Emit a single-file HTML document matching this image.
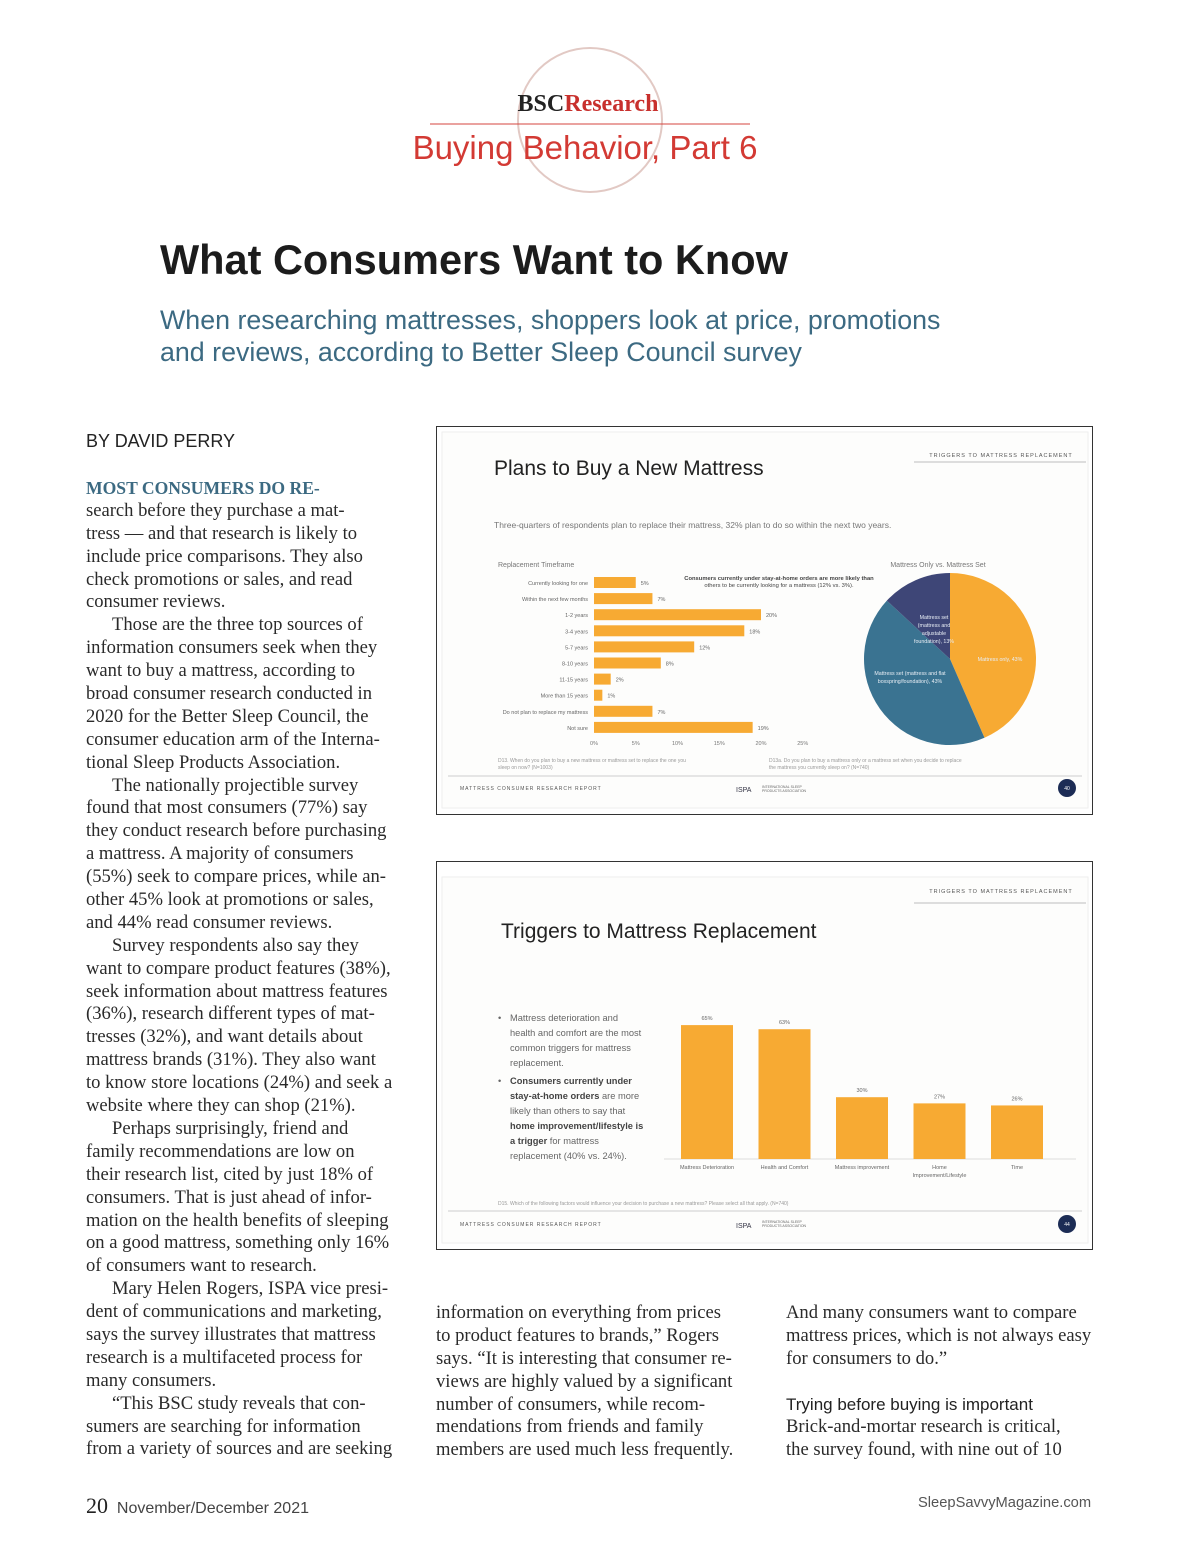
<!DOCTYPE html>
<html><head><meta charset="utf-8">
<style>
body{margin:0;background:#fff;}
#page{position:relative;width:1200px;height:1558px;background:#fff;overflow:hidden;font-family:"Liberation Serif",serif;color:#222;}
.abs{position:absolute;white-space:nowrap;}
.col{position:absolute;font-family:"Liberation Serif",serif;font-size:18.6px;line-height:22.9px;color:#2a2a2a;}
.col div{white-space:nowrap;height:22.9px;}
.ind{padding-left:26px;}
</style></head><body>
<div id="page">

<svg class="abs" style="left:0;top:0" width="1200" height="200">
  <circle cx="590" cy="120" r="72" fill="none" stroke="#e2c9c4" stroke-width="2"/>
  <line x1="430" y1="124" x2="750" y2="124" stroke="#d6453f" stroke-width="1"/>
  <text x="588" y="111" text-anchor="middle" font-family="Liberation Serif" font-weight="bold" font-size="24"><tspan fill="#222">BSC</tspan><tspan fill="#c8302d">Research</tspan></text>
  <text x="585" y="159" text-anchor="middle" font-family="Liberation Sans" font-size="33" fill="#d33a34">Buying Behavior, Part 6</text>
</svg>

<div class="abs" style="left:160px;top:236px;font-family:'Liberation Sans',sans-serif;font-weight:bold;font-size:41.5px;color:#1c1c1c;">What Consumers Want to Know</div>
<div class="abs" style="left:160px;top:304px;font-family:'Liberation Sans',sans-serif;font-size:26.8px;line-height:32px;color:#3c6a82;">When researching mattresses, shoppers look at price, promotions<br>and reviews, according to Better Sleep Council survey</div>

<div class="abs" style="left:86px;top:431px;font-family:'Liberation Sans',sans-serif;font-size:18px;color:#222;">BY DAVID PERRY</div>

<div class="col" style="left:86px;top:477px;">
<div style="color:#3c6a82;font-weight:bold;font-size:17.6px;">MOST CONSUMERS DO RE-</div>
<div>search before they purchase a mat-</div>
<div>tress — and that research is likely to</div>
<div>include price comparisons. They also</div>
<div>check promotions or sales, and read</div>
<div>consumer reviews.</div>
<div class="ind">Those are the three top sources of</div>
<div>information consumers seek when they</div>
<div>want to buy a mattress, according to</div>
<div>broad consumer research conducted in</div>
<div>2020 for the Better Sleep Council, the</div>
<div>consumer education arm of the Interna-</div>
<div>tional Sleep Products Association.</div>
<div class="ind">The nationally projectible survey</div>
<div>found that most consumers (77%) say</div>
<div>they conduct research before purchasing</div>
<div>a mattress. A majority of consumers</div>
<div>(55%) seek to compare prices, while an-</div>
<div>other 45% look at promotions or sales,</div>
<div>and 44% read consumer reviews.</div>
<div class="ind">Survey respondents also say they</div>
<div>want to compare product features (38%),</div>
<div>seek information about mattress features</div>
<div>(36%), research different types of mat-</div>
<div>tresses (32%), and want details about</div>
<div>mattress brands (31%). They also want</div>
<div>to know store locations (24%) and seek a</div>
<div>website where they can shop (21%).</div>
<div class="ind">Perhaps surprisingly, friend and</div>
<div>family recommendations are low on</div>
<div>their research list, cited by just 18% of</div>
<div>consumers. That is just ahead of infor-</div>
<div>mation on the health benefits of sleeping</div>
<div>on a good mattress, something only 16%</div>
<div>of consumers want to research.</div>
<div class="ind">Mary Helen Rogers, ISPA vice presi-</div>
<div>dent of communications and marketing,</div>
<div>says the survey illustrates that mattress</div>
<div>research is a multifaceted process for</div>
<div>many consumers.</div>
<div class="ind">“This BSC study reveals that con-</div>
<div>sumers are searching for information</div>
<div>from a variety of sources and are seeking</div>
</div>

<div class="col" style="left:436px;top:1302px;">
<div>information on everything from prices</div>
<div>to product features to brands,” Rogers</div>
<div>says. “It is interesting that consumer re-</div>
<div>views are highly valued by a significant</div>
<div>number of consumers, while recom-</div>
<div>mendations from friends and family</div>
<div>members are used much less frequently.</div>
</div>

<div class="col" style="left:786px;top:1302px;">
<div>And many consumers want to compare</div>
<div>mattress prices, which is not always easy</div>
<div>for consumers to do.”</div>
<div></div>
<div style="font-family:'Liberation Sans',sans-serif;font-size:17px;color:#222;">Trying before buying is important</div>
<div>Brick-and-mortar research is critical,</div>
<div>the survey found, with nine out of 10</div>
</div>

<div class="abs" style="left:86px;top:1493px;font-family:'Liberation Sans',sans-serif;color:#444;"><span style="font-family:'Liberation Serif',serif;font-size:22px;color:#222;">20</span> <span style="font-size:16px;">&nbsp;November/December 2021</span></div>
<div class="abs" style="left:918px;top:1495px;font-family:'Liberation Sans',sans-serif;font-size:14.7px;color:#555;">SleepSavvyMagazine.com</div>

<!-- Chart 1 -->
<svg id="c1" class="abs" style="left:436px;top:426px" width="658" height="390" font-family="Liberation Sans">
  <rect x="0.5" y="0.5" width="656" height="388" fill="#fff" stroke="#333" stroke-width="1"/>
  <rect x="6" y="6" width="646" height="376" fill="#fdfdfc" stroke="#eee"/>
  <text x="58" y="49" font-size="21" fill="#222">Plans to Buy a New Mattress</text>
  <line x1="478" y1="36" x2="650" y2="36" stroke="#ddd" stroke-width="2"/>
  <text x="565" y="31" font-size="5.5" text-anchor="middle" fill="#555" letter-spacing="1">TRIGGERS TO MATTRESS REPLACEMENT</text>
  <text x="58" y="102" font-size="8.5" fill="#777">Three-quarters of respondents plan to replace their mattress, 32% plan to do so within the next two years.</text>
  <text x="62" y="141" font-size="7" fill="#777">Replacement Timeframe</text>
  <text x="343" y="154" font-size="5.8" fill="#444" text-anchor="middle" font-weight="bold">Consumers currently under stay-at-home orders are more likely than</text>
  <text x="343" y="161" font-size="5.8" fill="#444" text-anchor="middle">others to be currently looking for a mattress (12% vs. 3%).</text>
  <text x="502" y="141" font-size="7" fill="#777" text-anchor="middle">Mattress Only vs. Mattress Set</text>
  <g id="bars1"></g>
  <g id="pie1"></g>
  <text x="62" y="336" font-size="5" fill="#999">D13. When do you plan to buy a new mattress or mattress set to replace the one you</text>
  <text x="62" y="343" font-size="5" fill="#999">sleep on now? (N=1003)</text>
  <text x="333" y="336" font-size="5" fill="#999">D13a. Do you plan to buy a mattress only or a mattress set when you decide to replace</text>
  <text x="333" y="343" font-size="5" fill="#999">the mattress you currently sleep on? (N=740)</text>
  <line x1="12" y1="350" x2="646" y2="350" stroke="#e5e5e5" stroke-width="2"/>
  <text x="24" y="364" font-size="5" fill="#555" letter-spacing="1">MATTRESS CONSUMER RESEARCH REPORT</text>
  <text x="300" y="366" font-size="7" fill="#334">ISPA</text>
  <text x="326" y="362" font-size="3.5" fill="#666">INTERNATIONAL SLEEP</text>
  <text x="326" y="366" font-size="3.5" fill="#666">PRODUCTS ASSOCIATION</text>
  <circle cx="631" cy="362" r="9" fill="#1c2c55"/>
  <text x="631" y="364" font-size="5" fill="#fff" text-anchor="middle">40</text>
</svg>

<!-- Chart 2 -->
<svg id="c2" class="abs" style="left:436px;top:861px" width="658" height="390" font-family="Liberation Sans">
  <rect x="0.5" y="0.5" width="656" height="388" fill="#fff" stroke="#333" stroke-width="1"/>
  <rect x="6" y="16" width="646" height="366" fill="#fdfdfc" stroke="#eee"/>
  <line x1="478" y1="42" x2="650" y2="42" stroke="#ddd" stroke-width="2"/>
  <text x="565" y="32" font-size="5.5" text-anchor="middle" fill="#555" letter-spacing="1">TRIGGERS TO MATTRESS REPLACEMENT</text>
  <text x="65" y="77" font-size="21" fill="#222">Triggers to Mattress Replacement</text>
  <g font-size="9.3" fill="#666">
    <text x="62" y="160">•</text>
    <text x="74" y="160">Mattress deterioration and</text>
    <text x="74" y="175">health and comfort are the most</text>
    <text x="74" y="190">common triggers for mattress</text>
    <text x="74" y="205">replacement.</text>
    <text x="62" y="223">•</text>
    <text x="74" y="223" font-weight="bold" fill="#444">Consumers currently under</text>
    <text x="74" y="238"><tspan font-weight="bold" fill="#444">stay-at-home orders</tspan> are more</text>
    <text x="74" y="253">likely than others to say that</text>
    <text x="74" y="268" font-weight="bold" fill="#444">home improvement/lifestyle is</text>
    <text x="74" y="283"><tspan font-weight="bold" fill="#444">a trigger</tspan> for mattress</text>
    <text x="74" y="298">replacement (40% vs. 24%).</text>
  </g>
  <g id="bars2"></g>
  <text x="62" y="344" font-size="5" fill="#999">D15. Which of the following factors would influence your decision to purchase a new mattress? Please select all that apply. (N=740)</text>
  <line x1="12" y1="350" x2="646" y2="350" stroke="#e5e5e5" stroke-width="2"/>
  <text x="24" y="365" font-size="5" fill="#555" letter-spacing="1">MATTRESS CONSUMER RESEARCH REPORT</text>
  <text x="300" y="367" font-size="7" fill="#334">ISPA</text>
  <text x="326" y="362" font-size="3.5" fill="#666">INTERNATIONAL SLEEP</text>
  <text x="326" y="366" font-size="3.5" fill="#666">PRODUCTS ASSOCIATION</text>
  <circle cx="631" cy="363" r="9" fill="#1c2c55"/>
  <text x="631" y="365" font-size="5" fill="#fff" text-anchor="middle">44</text>
</svg>

<script>
const NS="http://www.w3.org/2000/svg";
const timeframeCats=["Currently looking for one","Within the next few months","1-2 years","3-4 years","5-7 years","8-10 years","11-15 years","More than 15 years","Do not plan to replace my mattress","Not sure"];
const timeframeVals=[5,7,20,18,12,8,2,1,7,19];
const xTicks=[0,5,10,15,20,25];
const pieLabels=["Mattress only, 43%","Mattress set (mattress and flat boxspring/foundation), 43%","Mattress set (mattress and adjustable foundation), 13%"];
const pieVals=[43,43,13];
const triggerCats=["Mattress Deterioration","Health and Comfort","Mattress improvement","Home Improvement/Lifestyle","Time"];
const triggerVals=[65,63,30,27,26];

function mk(tag,attrs,parent,text){const e=document.createElementNS(NS,tag);for(const k in attrs)e.setAttribute(k,attrs[k]);if(text!==undefined)e.textContent=text;parent.appendChild(e);return e;}

// chart 1 bars
const g1=document.getElementById('bars1');
const x1=v=>158+v*8.35;
const y1=i=>151+i*16.1;
timeframeCats.forEach((c,i)=>{
  const t=mk('text',{x:152,y:y1(i)+8,'font-size':5.5,fill:'#666','text-anchor':'end'},g1,c);
  
  
  const r=mk('rect',{x:x1(0),y:y1(i),width:x1(timeframeVals[i])-x1(0),height:11,fill:'#f7aa33'},g1);
  
  
  const v=mk('text',{x:x1(timeframeVals[i])+5,y:y1(i)+8,'font-size':5.5,fill:'#666'},g1,timeframeVals[i]+'%');
  
  
});
xTicks.forEach(t=>{
  const e=mk('text',{x:x1(t),y:319,'font-size':5.5,fill:'#777','text-anchor':'middle'},g1,t+'%');
  
  
});

// pie
const gp=document.getElementById('pie1');
const cx=514,cy=233,R=86;
const pieColors=["#f7aa33","#3a7391","#3e4677"];
const total=pieVals.reduce((a,b)=>a+b,0);
let a0=-Math.PI/2;
pieVals.forEach((v,i)=>{
  const a1=a0+v/total*2*Math.PI;
  const large=(a1-a0)>Math.PI?1:0;
  const p=mk('path',{d:`M${cx},${cy} L${cx+R*Math.cos(a0)},${cy+R*Math.sin(a0)} A${R},${R} 0 ${large} 1 ${cx+R*Math.cos(a1)},${cy+R*Math.sin(a1)} Z`,fill:pieColors[i]},gp);
  
  
  a0=a1;
});
[[cx+50,cy+2,[pieLabels[0]]],[cx-40,cy+16,["Mattress set (mattress and flat","boxspring/foundation), 43%"]],[cx-16,cy-40,["Mattress set","(mattress and","adjustable","foundation), 13%"]]].forEach((d,i)=>{
  d[2].forEach((ln,j)=>{
    const t=mk('text',{x:d[0],y:d[1]+j*8,'font-size':5.3,fill:'#e8eef5','text-anchor':'middle'},gp,ln);
    
    
  });
});

// chart 2 bars
const g2=document.getElementById('bars2');
const base=298;
const yv=v=>base-v*2.06;
const xc=i=>271+i*77.5;
mk('line',{x1:228,y1:base,x2:640,y2:base,stroke:'#ddd'},g2);
triggerCats.forEach((c,i)=>{
  const r=mk('rect',{x:xc(i)-26,y:yv(triggerVals[i]),width:52,height:base-yv(triggerVals[i]),fill:'#f7aa33'},g2);
  
  
  const v=mk('text',{x:xc(i),y:yv(triggerVals[i])-5,'font-size':5.5,fill:'#666','text-anchor':'middle'},g2,triggerVals[i]+'%');
  
  
  const parts=c==="Home Improvement/Lifestyle"?["Home","Improvement/Lifestyle"]:[c];
  parts.forEach((p,j)=>{
    const t=mk('text',{x:xc(i),y:base+10+j*8,'font-size':5.5,fill:'#666','text-anchor':'middle'},g2,p);
    
    
  });
});
</script>
</div>
</body></html>
